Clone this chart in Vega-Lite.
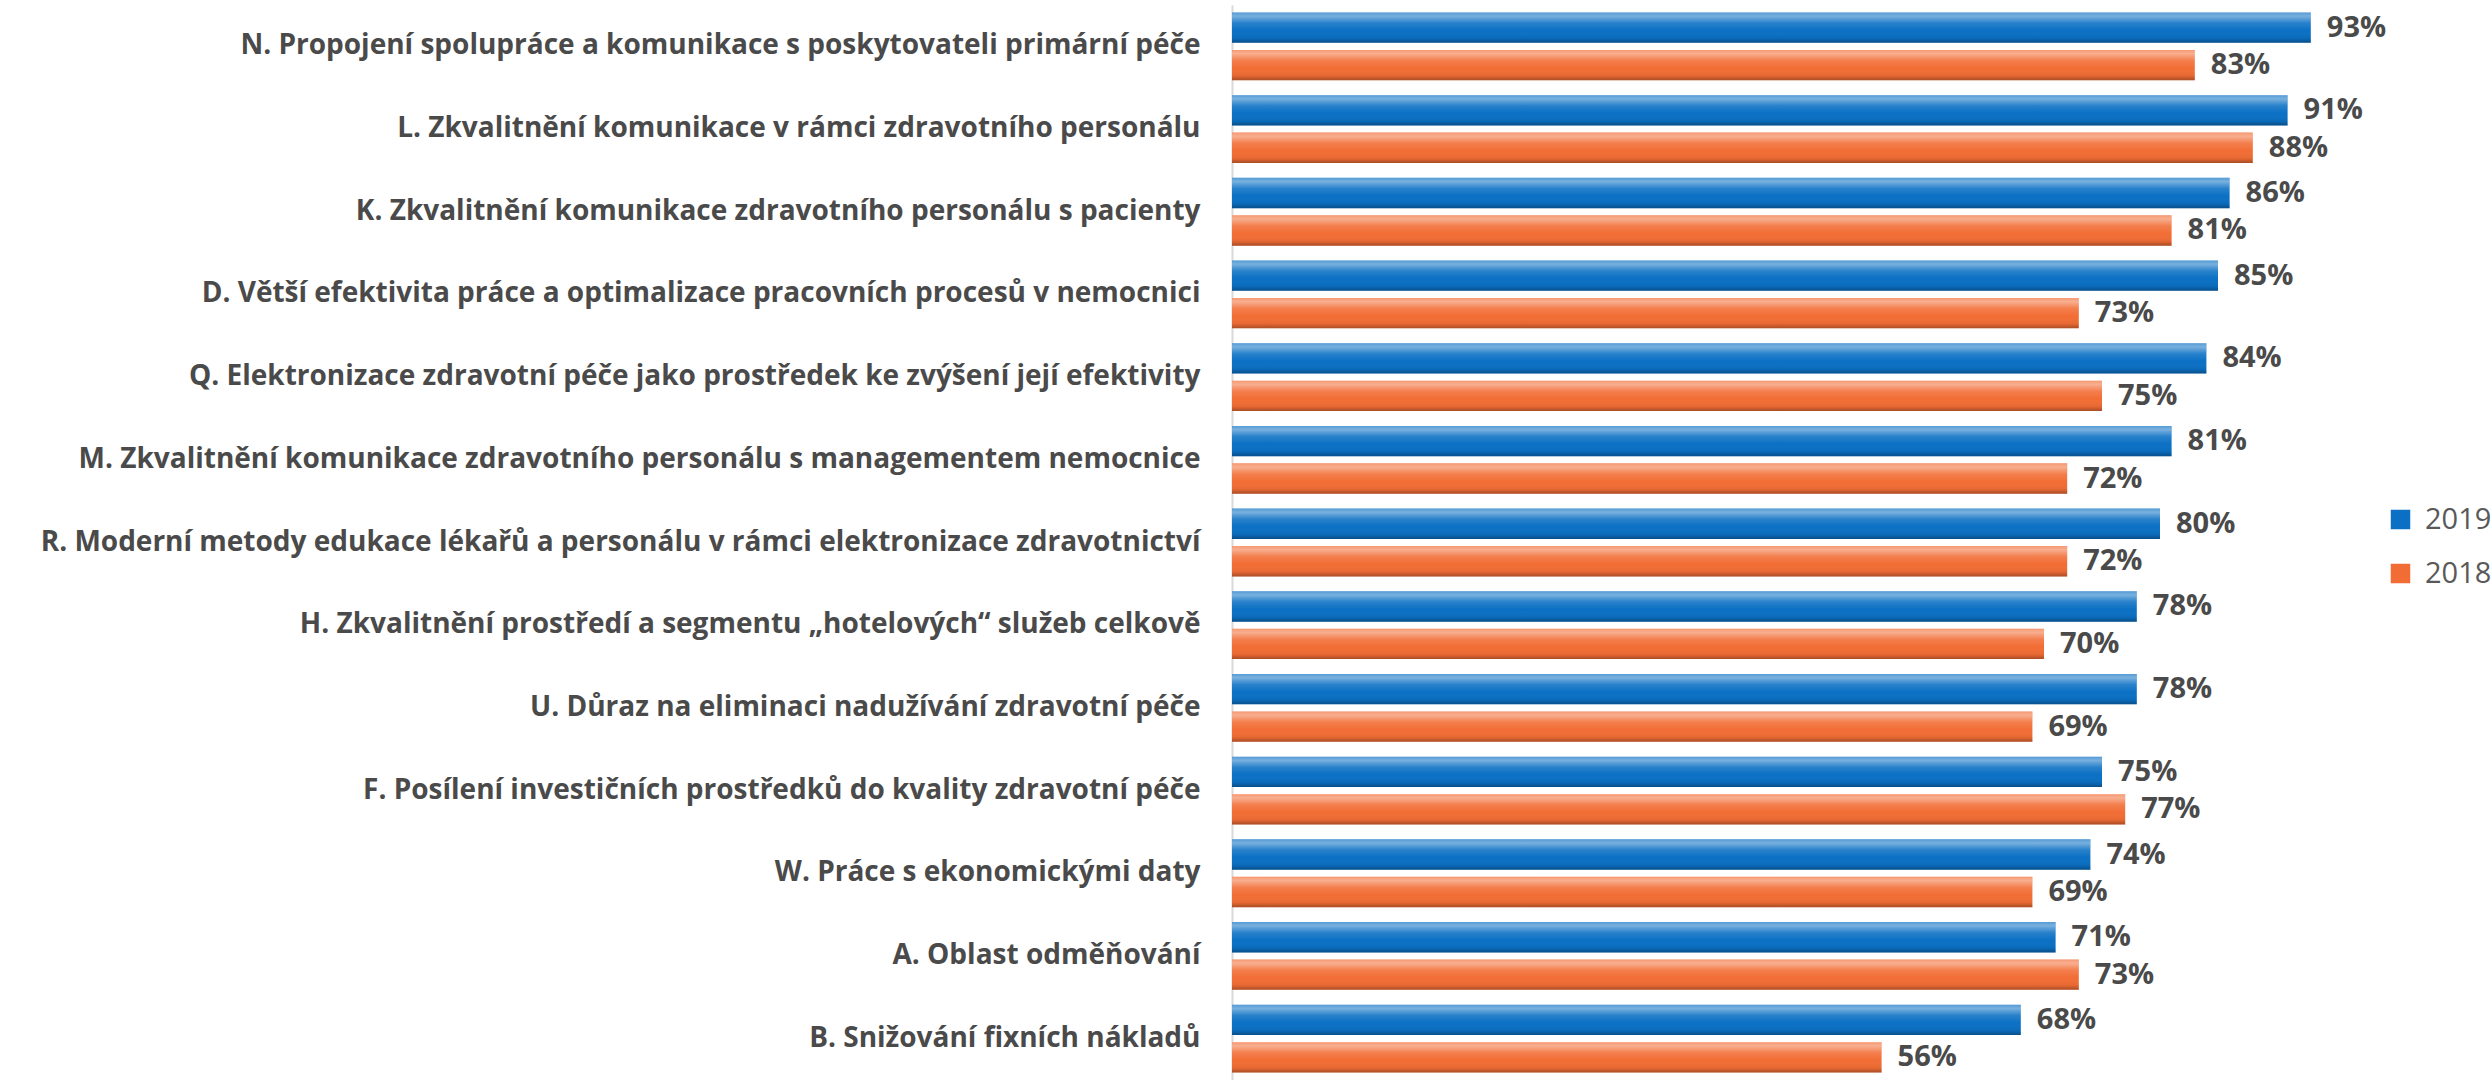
{
  "$schema": "https://vega.github.io/schema/vega-lite/v6.json",
  "autosize": {"type": "none"},
  "padding": {"left": 1232, "top": 5, "right": 99, "bottom": 0},
  "width": 1160,
  "height": 1075,
  "background": "white",
  "config": {"view": {"stroke": null}, "font": "Open Sans"},
  "data": {"values": [
    {"cat": "N. Propojení spolupráce a komunikace s poskytovateli primární péče", "year": "2019", "v": 0.93},
    {"cat": "N. Propojení spolupráce a komunikace s poskytovateli primární péče", "year": "2018", "v": 0.83},
    {"cat": "L. Zkvalitnění komunikace v rámci  zdravotního personálu", "year": "2019", "v": 0.91},
    {"cat": "L. Zkvalitnění komunikace v rámci  zdravotního personálu", "year": "2018", "v": 0.88},
    {"cat": "K. Zkvalitnění komunikace zdravotního personálu s pacienty", "year": "2019", "v": 0.86},
    {"cat": "K. Zkvalitnění komunikace zdravotního personálu s pacienty", "year": "2018", "v": 0.81},
    {"cat": "D. Větší efektivita práce a optimalizace pracovních procesů v nemocnici", "year": "2019", "v": 0.85},
    {"cat": "D. Větší efektivita práce a optimalizace pracovních procesů v nemocnici", "year": "2018", "v": 0.73},
    {"cat": "Q. Elektronizace zdravotní péče jako  prostředek ke zvýšení její efektivity", "year": "2019", "v": 0.84},
    {"cat": "Q. Elektronizace zdravotní péče jako  prostředek ke zvýšení její efektivity", "year": "2018", "v": 0.75},
    {"cat": "M. Zkvalitnění komunikace zdravotního personálu s managementem nemocnice", "year": "2019", "v": 0.81},
    {"cat": "M. Zkvalitnění komunikace zdravotního personálu s managementem nemocnice", "year": "2018", "v": 0.72},
    {"cat": "R. Moderní metody edukace lékařů a personálu v rámci elektronizace zdravotnictví", "year": "2019", "v": 0.80},
    {"cat": "R. Moderní metody edukace lékařů a personálu v rámci elektronizace zdravotnictví", "year": "2018", "v": 0.72},
    {"cat": "H. Zkvalitnění prostředí a segmentu „hotelových“ služeb celkově", "year": "2019", "v": 0.78},
    {"cat": "H. Zkvalitnění prostředí a segmentu „hotelových“ služeb celkově", "year": "2018", "v": 0.70},
    {"cat": "U. Důraz na eliminaci nadužívání zdravotní péče", "year": "2019", "v": 0.78},
    {"cat": "U. Důraz na eliminaci nadužívání zdravotní péče", "year": "2018", "v": 0.69},
    {"cat": "F. Posílení investičních prostředků do kvality zdravotní péče", "year": "2019", "v": 0.75},
    {"cat": "F. Posílení investičních prostředků do kvality zdravotní péče", "year": "2018", "v": 0.77},
    {"cat": "W. Práce s ekonomickými daty", "year": "2019", "v": 0.74},
    {"cat": "W. Práce s ekonomickými daty", "year": "2018", "v": 0.69},
    {"cat": "A. Oblast odměňování", "year": "2019", "v": 0.71},
    {"cat": "A. Oblast odměňování", "year": "2018", "v": 0.73},
    {"cat": "B. Snižování fixních nákladů", "year": "2019", "v": 0.68},
    {"cat": "B. Snižování fixních nákladů", "year": "2018", "v": 0.56}
  ]},
  "encoding": {
    "y": {
      "field": "cat", "type": "nominal", "sort": null,
      "scale": {"paddingInner": 0.18, "paddingOuter": 0.09},
      "axis": {
        "title": null, "ticks": false, "labelPadding": 32, "labelLimit": 1300,
        "labelFontSize": 28, "labelFontWeight": "bold", "labelColor": "#4a4a4a", "labelFont": "Open Sans",
        "domainColor": "#d9d9d9", "domainWidth": 2
      }
    },
    "yOffset": {"field": "year", "type": "nominal", "scale": {"domain": ["2019", "2018"], "paddingInner": 0.19, "paddingOuter": 0}},
    "x": {"field": "v", "type": "quantitative", "scale": {"domain": [0, 1]}, "axis": null}
  },
  "layer": [
    {
      "mark": {"type": "bar"},
      "encoding": {
        "color": {
          "field": "year", "type": "nominal",
          "scale": {"domain": ["2019", "2018"], "range": ["#0b70c4", "#f26d35"]},
          "legend": {
            "title": null, "orient": "none", "legendX": 1154, "legendY": 500,
            "symbolType": "square", "symbolSize": 380, "symbolStrokeWidth": 0,
            "labelFontSize": 29, "labelColor": "#595959", "labelFont": "Open Sans",
            "rowPadding": 24, "labelOffset": 10
          }
        }
      }
    },
    {
      "mark": {
        "type": "bar",
        "fill": {
          "gradient": "linear", "x1": 0, "y1": 0, "x2": 0, "y2": 1,
          "stops": [
            {"offset": 0, "color": "rgba(255,255,255,0.30)"},
            {"offset": 0.12, "color": "rgba(255,255,255,0.45)"},
            {"offset": 0.35, "color": "rgba(255,255,255,0.12)"},
            {"offset": 0.6, "color": "rgba(255,255,255,0)"},
            {"offset": 0.85, "color": "rgba(0,0,0,0.05)"},
            {"offset": 1, "color": "rgba(0,0,0,0.30)"}
          ]
        }
      }
    },
    {
      "mark": {"type": "text", "align": "left", "baseline": "middle", "dx": 16, "fontSize": 29, "fontWeight": "bold", "color": "#4a4a4a", "font": "Open Sans"},
      "encoding": {"text": {"field": "v", "type": "quantitative", "format": ".0%"}, "detail": {"field": "year"}}
    }
  ]
}
